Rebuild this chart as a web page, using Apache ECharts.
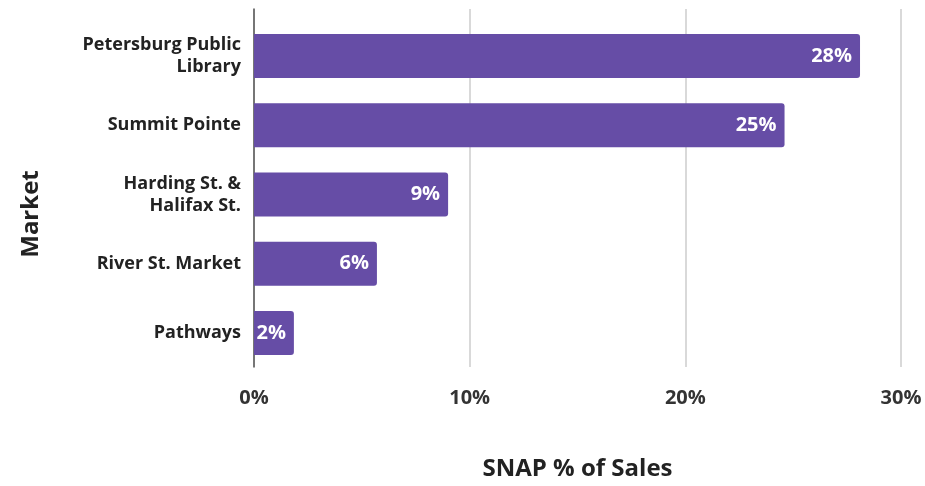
<!DOCTYPE html>
<html><head><meta charset="utf-8">
<script src="https://cdn.jsdelivr.net/npm/echarts@6/dist/echarts.min.js"></script>
<style>html,body{margin:0;padding:0;background:#fff}#c{width:925px;height:486px}</style>
</head><body><div id="c"></div>
<script>
const categories = ["Petersburg Public\nLibrary", "Summit Pointe", "Harding St. &\nHalifax St.", "River St. Market", "Pathways"];
const values = [28.1, 24.6, 9.0, 5.7, 1.85];
const xTicks = [0, 10, 20, 30];
const xName = "SNAP % of Sales";
const yName = "Market";

const FONT = "'Open Sans', 'Noto Sans', sans-serif";
const chart = echarts.init(document.getElementById('c'));
chart.setOption({
  animation: false,
  grid: [
    {left: 254, right: 24, top: 21.5, height: 346, containLabel: false},
    {left: 254, right: 24, top: 9, height: 370, containLabel: false}
  ],
  xAxis: [
    {gridIndex: 0, type: 'value', min: xTicks[0], max: xTicks[xTicks.length-1], interval: 10,
     axisLine: {show: false}, axisTick: {show: false}, splitLine: {show: false}, axisLabel: {show: false}},
    {gridIndex: 1, type: 'value', min: xTicks[0], max: xTicks[xTicks.length-1], interval: 10,
     axisLine: {show: false}, axisTick: {show: false},
     splitLine: {show: true, lineStyle: {color: '#d9d9d9', width: 2}},
     axisLabel: {margin: 21, formatter: v => v + '%', fontFamily: FONT, fontWeight: 'bold', fontSize: 20, color: '#333'},
     name: xName, nameLocation: 'middle', nameGap: 90,
     nameTextStyle: {fontFamily: FONT, fontWeight: 'bold', fontSize: 24, color: '#222'}}
  ],
  yAxis: [
    {gridIndex: 0, type: 'category', data: categories, inverse: true,
     axisLine: {show: false}, axisTick: {show: false},
     axisLabel: {margin: 13, fontFamily: FONT, fontWeight: 'bold', fontSize: 18, color: '#222', lineHeight: 22, align: 'right'}},
    {gridIndex: 1, type: 'category', data: [''],
     axisLine: {show: true, lineStyle: {color: '#555', width: 1.5}}, axisTick: {show: false}, axisLabel: {show: false}}
  ],
  graphic: [{
    type: 'text', x: 31, y: 214, rotation: Math.PI / 2,
    style: {text: yName, font: "bold 24px 'Open Sans', sans-serif", fill: '#222', textAlign: 'center', textVerticalAlign: 'middle'}
  }],
  series: [{
    type: 'bar', xAxisIndex: 0, yAxisIndex: 0, data: values, barWidth: 44,
    itemStyle: {color: '#664da6', borderRadius: [0, 3, 3, 0]},
    label: {show: true, position: 'insideRight', distance: 8, formatter: p => Math.round(p.value) + '%',
            fontFamily: FONT, fontWeight: 'bold', fontSize: 20, color: '#fff'}
  }]
});
</script></body></html>
